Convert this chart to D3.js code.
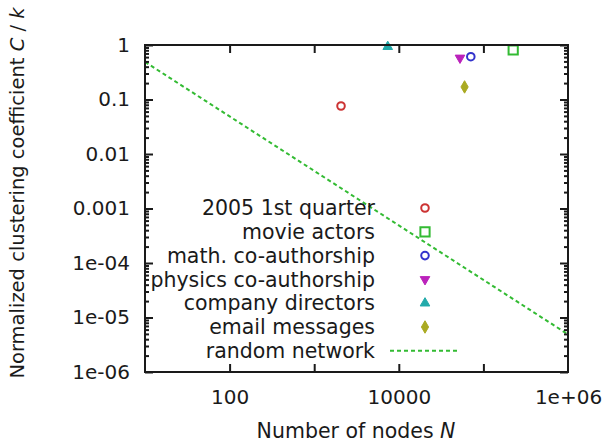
<!DOCTYPE html>
<html>
<head>
<meta charset="utf-8">
<script src="https://cdn.jsdelivr.net/npm/d3@7"></script>
<style>
  body { margin: 0; background: #fff; }
  text { font-family: "DejaVu Sans", sans-serif; fill: #1a1a1a; }
</style>
</head>
<body>
<script>
// networks: name, number of nodes N, normalized clustering C/k
var names = ['2005 1st quarter', 'movie actors', 'math. co-authorship',
             'physics co-authorship', 'company directors', 'email messages'];
var nodes = [2075, 225000, 71000, 52900, 7400, 59900];
var clustering = [0.076, 0.81, 0.61, 0.58, 0.93, 0.17];
var shapes = ['circle', 'square', 'circle', 'down', 'up', 'diamond'];
var colors = ['#cc3333', '#33bb33', '#3333cc', '#bb22bb', '#22aaaa', '#aaaa22'];

// random network line C/k ~ 1/N
var randomN = [10, 1e6];
var randomC = [0.49, 4.9e-6];

var xTicks = [100, 1000, 10000, 100000];
var xLabels = [100, 10000, 1e6];
var xLabelText = ['100', '10000', '1e+06'];
var yTicks = [1e-6, 1e-5, 1e-4, 1e-3, 0.01, 0.1, 1];
var yLabels = ['1e-06', '1e-05', '1e-04', '0.001', '0.01', '0.1', '1'];

var W = 605, H = 445;
var margin = {top: 45, right: 37, bottom: 73, left: 145};
var pw = W - margin.left - margin.right;
var ph = H - margin.top - margin.bottom;

var svg = d3.select('body').append('svg')
    .attr('width', W)
    .attr('height', H);

var g = svg.append('g')
    .attr('transform', 'translate(' + margin.left + ',' + margin.top + ')');

var x = d3.scaleLog().domain([10, 1e6]).range([0, pw]);
var y = d3.scaleLog().domain([1e-6, 1]).range([ph, 0]);

// minor y ticks 2..9 per decade
var yMinor = [];
yTicks.slice(0, -1).forEach(function(t) {
    for (var k = 2; k < 10; k++) yMinor.push(t * k);
});

// random network line
var line = d3.line()
    .x(function(d) { return x(d[0]); })
    .y(function(d) { return y(d[1]); });

g.append('path')
    .datum(d3.zip(randomN, randomC))
    .attr('d', line)
    .attr('fill', 'none')
    .attr('stroke', '#33bb33')
    .attr('stroke-width', 2)
    .attr('stroke-dasharray', '4,3');

var symbolFor = {
    circle: d3.symbol().type(d3.symbolCircle).size(45),
    square: d3.symbol().type(d3.symbolSquare).size(85),
    up: d3.symbol().type(d3.symbolTriangle).size(40),
    down: d3.symbol().type(d3.symbolTriangle).size(40),
    diamond: d3.symbol().type(d3.symbolDiamond).size(45)
};
var filled = {circle: false, square: false, up: true, down: true, diamond: true};

function drawMarker(sel, shape, color, px, py) {
    var rot = shape === 'down' ? ' rotate(180)' : '';
    sel.append('path')
        .attr('d', symbolFor[shape]())
        .attr('transform', 'translate(' + px + ',' + py + ')' + rot)
        .attr('fill', filled[shape] ? color : 'none')
        .attr('stroke', color)
        .attr('stroke-width', filled[shape] ? 1 : 2);
}

names.forEach(function(n, i) {
    drawMarker(g, shapes[i], colors[i], x(nodes[i]), y(clustering[i]));
});

// frame
g.append('rect')
    .attr('width', pw).attr('height', ph)
    .attr('fill', 'none')
    .attr('stroke', '#1a1a1a')
    .attr('stroke-width', 2);

function styleAxis(sel) {
    sel.attr('font-size', 20).attr('font-family', '"DejaVu Sans", sans-serif');
    sel.select('.domain').remove();
    sel.selectAll('.tick line').attr('stroke', '#1a1a1a').attr('stroke-width', 2);
    sel.selectAll('.tick text').attr('fill', '#1a1a1a');
}

// x ticks bottom and top, labels every second decade
g.append('g')
    .attr('transform', 'translate(0,' + ph + ')')
    .call(d3.axisBottom(x).tickValues(xTicks).tickSize(-8).tickFormat(''))
    .call(styleAxis);
g.append('g')
    .call(d3.axisTop(x).tickValues(xTicks).tickSize(-8).tickFormat(''))
    .call(styleAxis);
g.append('g')
    .attr('transform', 'translate(0,' + ph + ')')
    .call(d3.axisBottom(x).tickValues(xLabels).tickSize(0).tickPadding(18)
        .tickFormat(function(d, i) { return xLabelText[i]; }))
    .call(styleAxis);

// y ticks left (with labels) and right
g.append('g')
    .call(d3.axisLeft(y).tickValues(yTicks).tickSize(-8).tickPadding(15)
        .tickFormat(function(d, i) { return yLabels[i]; }))
    .call(styleAxis);
g.append('g')
    .attr('transform', 'translate(' + pw + ',0)')
    .call(d3.axisRight(y).tickValues(yTicks).tickSize(-8).tickFormat(''))
    .call(styleAxis);
g.append('g')
    .call(d3.axisLeft(y).tickValues(yMinor).tickSize(-4).tickFormat(''))
    .call(styleAxis);
g.append('g')
    .attr('transform', 'translate(' + pw + ',0)')
    .call(d3.axisRight(y).tickValues(yMinor).tickSize(-4).tickFormat(''))
    .call(styleAxis);

// axis titles
var xt = svg.append('text')
    .attr('x', 356)
    .attr('y', 438)
    .attr('text-anchor', 'middle')
    .attr('font-size', '20.5px');
xt.append('tspan').text('Number of nodes ');
xt.append('tspan').attr('font-style', 'italic').text('N');

var yt = svg.append('text')
    .attr('transform', 'translate(24,193) rotate(-90)')
    .attr('text-anchor', 'middle')
    .attr('font-size', '19.5px');
yt.append('tspan').text('Normalized clustering coefficient ');
yt.append('tspan').attr('font-style', 'italic').text('C');
yt.append('tspan').text(' / ');
yt.append('tspan').attr('font-style', 'italic').text('k');

// legend
var legX = 375, symX = 425, legY = 208, legStep = 23.8;
var leg = svg.append('g');
names.forEach(function(n, i) {
    var ly = legY + i * legStep;
    leg.append('text')
        .attr('x', legX)
        .attr('y', ly)
        .attr('dy', '0.35em')
        .attr('text-anchor', 'end')
        .attr('font-size', '20.5px')
        .text(n);
    drawMarker(leg, shapes[i], colors[i], symX, ly);
});
var ry = legY + names.length * legStep;
leg.append('text')
    .attr('x', legX)
    .attr('y', ry)
    .attr('dy', '0.35em')
    .attr('text-anchor', 'end')
    .attr('font-size', '20.5px')
    .text('random network');
leg.append('line')
    .attr('x1', 390).attr('x2', 460)
    .attr('y1', ry).attr('y2', ry)
    .attr('stroke', '#33bb33')
    .attr('stroke-width', 2)
    .attr('stroke-dasharray', '4,3');
</script>
</body>
</html>
